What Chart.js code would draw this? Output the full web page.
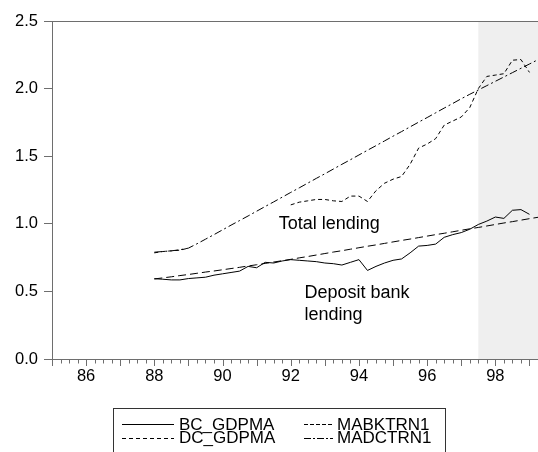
<!DOCTYPE html>
<html>
<head>
<meta charset="utf-8">
<script src="https://cdn.jsdelivr.net/npm/chart.js@4/dist/chart.umd.min.js"></script>
<style>
  html, body { margin: 0; padding: 0; background: #fff; }
  #wrap { width: 538px; height: 452px; }
</style>
</head>
<body>
<div id="wrap"><canvas id="chart" width="538" height="452"></canvas></div>
<script>
// quarterly observations, 1988Q1 .. 1999Q2 (two-digit years)
var quarters = [
  88.00, 88.25, 88.50, 88.75, 89.00, 89.25, 89.50, 89.75,
  90.00, 90.25, 90.50, 90.75, 91.00, 91.25, 91.50, 91.75,
  92.00, 92.25, 92.50, 92.75, 93.00, 93.25, 93.50, 93.75,
  94.00, 94.25, 94.50, 94.75, 95.00, 95.25, 95.50, 95.75,
  96.00, 96.25, 96.50, 96.75, 97.00, 97.25, 97.50, 97.75,
  98.00, 98.25, 98.50, 98.75, 99.00, 99.25
];
var bcGdpma = [
  0.594, 0.590, 0.585, 0.585, 0.595, 0.600, 0.605, 0.620,
  0.630, 0.640, 0.650, 0.685, 0.675, 0.715, 0.710, 0.725,
  0.735, 0.730, 0.725, 0.720, 0.710, 0.705, 0.695, 0.715,
  0.735, 0.655, 0.685, 0.710, 0.730, 0.740, 0.785, 0.835,
  0.840, 0.850, 0.900, 0.920, 0.935, 0.960, 0.995, 1.020,
  1.050, 1.040, 1.100, 1.105, 1.070, null
];
var dcGdpma = [
  0.785, 0.795, 0.800, 0.805, 0.820, null, null, null,
  null, null, null, null, null, null, null, null,
  1.140, 1.160, 1.170, 1.180, 1.180, 1.170, 1.165, 1.205,
  1.205, 1.165, 1.245, 1.300, 1.330, 1.350, 1.440, 1.560,
  1.590, 1.630, 1.730, 1.760, 1.790, 1.860, 2.000, 2.090,
  2.100, 2.110, 2.210, 2.215, 2.120, null
];
var mabktrn1 = [
  0.592, 0.600, 0.608, 0.617, 0.625, 0.634, 0.643, 0.651,
  0.660, 0.669, 0.678, 0.688, 0.697, 0.707, 0.717, 0.727,
  0.737, 0.748, 0.758, 0.769, 0.780, 0.791, 0.801, 0.812,
  0.823, 0.834, 0.844, 0.855, 0.866, 0.877, 0.887, 0.898,
  0.909, 0.920, 0.930, 0.941, 0.952, 0.963, 0.973, 0.984,
  0.995, 1.006, 1.016, 1.027, 1.038, 1.048
];
var madctrn1 = [
  0.790, 0.795, 0.800, 0.808, 0.820, 0.852, 0.886, 0.920,
  0.955, 0.990, 1.024, 1.058, 1.093, 1.128, 1.162, 1.197,
  1.232, 1.266, 1.301, 1.336, 1.370, 1.405, 1.440, 1.474,
  1.509, 1.544, 1.578, 1.613, 1.648, 1.682, 1.717, 1.752,
  1.786, 1.821, 1.856, 1.890, 1.925, 1.958, 1.990, 2.022,
  2.054, 2.086, 2.118, 2.150, 2.182, 2.214
];
var yTicks = [0, 0.5, 1.0, 1.5, 2.0, 2.5];
var xMin = 85, xMax = 99.25;
var forecastStart = 97.5;

var notes = [
  {lines: ['Total lending'], x: 91.65, y: 1.0},
  {lines: ['Deposit bank', 'lending'], x: 92.4, y: 0.49}
];

var FONT = "'Liberation Sans', Arial, Helvetica, sans-serif";
var AXIS = '#6e6e6e';

function pts(vals){
  return quarters.map(function(q, i){ return {x: q, y: vals[i]}; });
}

var shadePlugin = {
  id: 'shade',
  beforeDatasetsDraw: function(chart){
    var a = chart.chartArea, x = chart.scales.x, ctx = chart.ctx;
    var px = x.getPixelForValue(forecastStart);
    ctx.save();
    ctx.fillStyle = '#efefef';
    ctx.fillRect(px, a.top, a.right - px + 2, a.bottom - a.top);
    ctx.restore();
  }
};

var framePlugin = {
  id: 'frame',
  afterDraw: function(chart){
    var a = chart.chartArea, xs = chart.scales.x, ctx = chart.ctx;
    ctx.save();
    ctx.strokeStyle = AXIS;
    ctx.lineWidth = 1;
    ctx.beginPath();
    ctx.moveTo(a.left, Math.round(a.top) + 0.5);
    ctx.lineTo(a.right + 2, Math.round(a.top) + 0.5);
    // quarterly / yearly tick marks under the x axis
    xs.ticks.forEach(function(t){
      var px = Math.round(xs.getPixelForValue(t.value)) + 0.5;
      var len = Number.isInteger(t.value) ? 7 : 4.5;
      ctx.moveTo(px, a.bottom);
      ctx.lineTo(px, a.bottom + len);
    });
    ctx.stroke();

    // text notes
    ctx.fillStyle = '#000';
    ctx.font = '18px ' + FONT;
    ctx.textBaseline = 'middle';
    ctx.textAlign = 'left';
    notes.forEach(function(n){
      var px = xs.getPixelForValue(n.x), py = chart.scales.y.getPixelForValue(n.y);
      n.lines.forEach(function(s, i){ ctx.fillText(s, px, py + i * 22); });
    });

    // legend box
    var items = [
      {ds: 0, col: 0, row: 0, dash: []},
      {ds: 2, col: 1, row: 0, dash: [4, 2]},
      {ds: 1, col: 0, row: 1, dash: [4, 3]},
      {ds: 3, col: 1, row: 1, dash: [7, 2, 2, 2]}
    ];
    var bx = 113.5, by = 408.5;
    ctx.strokeStyle = '#333';
    ctx.setLineDash([]);
    ctx.strokeRect(bx, by, 332, 60);
    var cols = [{x0: 122, x1: 174, tx: 179}, {x0: 304, x1: 333, tx: 337}];
    var rows = [424, 437.5];
    ctx.font = '17px ' + FONT;
    items.forEach(function(it){
      var c = cols[it.col], y = rows[it.row];
      ctx.strokeStyle = '#000';
      ctx.setLineDash(it.dash);
      ctx.beginPath();
      ctx.moveTo(c.x0, Math.round(y) + 0.5);
      ctx.lineTo(c.x1, Math.round(y) + 0.5);
      ctx.stroke();
      ctx.setLineDash([]);
      ctx.fillText(chart.data.datasets[it.ds].label, c.tx, y + 1);
    });
    ctx.restore();
  }
};

function line(label, vals, dash){
  return {
    label: label,
    data: pts(vals),
    borderColor: '#000',
    borderWidth: 1,
    borderDash: dash,
    pointRadius: 0,
    fill: false,
    tension: 0,
    spanGaps: false
  };
}

new Chart(document.getElementById('chart'), {
  type: 'line',
  data: {
    datasets: [
      line('BC_GDPMA', bcGdpma, []),
      line('DC_GDPMA', dcGdpma, [4, 3]),
      line('MABKTRN1', mabktrn1, [8, 4]),
      line('MADCTRN1', madctrn1, [8, 3, 2, 3])
    ]
  },
  options: {
    responsive: false,
    animation: false,
    layout: {padding: {top: 21, left: 0, right: 0, bottom: 0}},
    plugins: {legend: {display: false}, tooltip: {enabled: false}},
    scales: {
      x: {
        type: 'linear',
        min: xMin,
        max: xMax,
        afterBuildTicks: function(s){
          var t = [];
          for (var v = xMin * 4; v <= xMax * 4; v++) t.push({value: v / 4});
          s.ticks = t;
        },
        afterFit: function(s){
          s.height = 93;
          s.paddingLeft = 0;
          s.paddingRight = 0;
        },
        grid: {display: false, drawTicks: false, tickLength: 7},
        border: {display: true, color: AXIS, width: 1},
        ticks: {
          autoSkip: false,
          maxRotation: 0,
          padding: 8,
          color: '#000',
          font: {family: FONT, size: 16.5},
          callback: function(v){
            return (Number.isInteger(v) && v % 2 === 0) ? String(v) : '';
          }
        }
      },
      y: {
        min: 0,
        max: 2.5,
        afterBuildTicks: function(s){
          s.ticks = yTicks.map(function(v){ return {value: v}; });
        },
        afterFit: function(s){
          s.width = 52;
          s.paddingTop = 0;
          s.paddingBottom = 0;
        },
        grid: {drawOnChartArea: false, drawTicks: true, tickLength: 8, color: AXIS},
        border: {display: true, color: AXIS, width: 1},
        ticks: {
          padding: 6,
          color: '#000',
          font: {family: FONT, size: 16.5},
          callback: function(v){ return v.toFixed(1); }
        }
      }
    }
  },
  plugins: [shadePlugin, framePlugin]
});
</script>
</body>
</html>
